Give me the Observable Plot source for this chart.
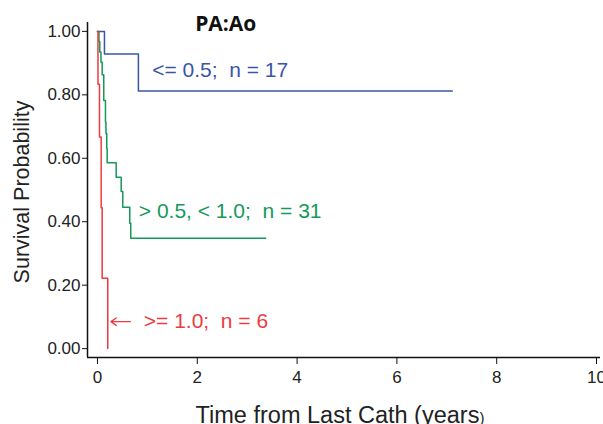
<!DOCTYPE html>
<html>
<head>
<meta charset="utf-8">
<script src="https://cdn.jsdelivr.net/npm/d3@7"></script>
<script src="https://cdn.jsdelivr.net/npm/@observablehq/plot@0.6"></script>
<style>
  html, body { margin: 0; padding: 0; background: #fff; }
  #chart { width: 603px; height: 424px; overflow: hidden; }
</style>
</head>
<body>
<div id="chart"></div>
<script>
// ---- data ----
const groups = ["<= 0.5", "> 0.5, < 1.0", ">= 1.0"];
const groupColors = ["#3a55a6", "#14995a", "#ec3b40"];

const blueTime = [0, 0.14, 0.82, 7.11];
const blueSurv = [1, 0.929, 0.812, 0.812];

const greenTime = [0, 0.03, 0.046, 0.07, 0.094, 0.126, 0.16, 0.17, 0.186, 0.194, 0.375, 0.475, 0.507, 0.647, 0.667, 3.37];
const greenSurv = [1, 0.968, 0.935, 0.903, 0.863, 0.782, 0.714, 0.678, 0.631, 0.586, 0.540, 0.495, 0.446, 0.395, 0.348, 0.348];

const redTime = [0, 0.01, 0.04, 0.074, 0.094, 0.206];
const redSurv = [1, 0.833, 0.667, 0.444, 0.222, 0];

const labelText = ["<= 0.5;\u00a0 n = 17", "> 0.5, < 1.0;\u00a0 n = 31", ">= 1.0;\u00a0 n = 6"];
const labelX = [1.096, 0.828, 0.928];
const labelY = [0.876, 0.433, 0.085];

// arrow pointing from the red label to the red curve
const arrowFromX = [0.66];
const arrowToX = [0.27];
const arrowY = [0.085];

const titleText = ["PA:Ao"];
const titleX = [2.57];
const titleY = [1.024];

const xTicks = [0, 2, 4, 6, 8, 10];
const yTicks = [0, 0.2, 0.4, 0.6, 0.8, 1.0];
const xDomain = [-0.2, 10.08];
const yDomain = [-0.028, 1.028];

const xTitleMain = "Time from Last Cath (years";
const xTitleEnd = ")";
const yTitle = "Survival Probability";

// ---- build rows ----
const series = [
  {g: groups[0], t: blueTime, s: blueSurv},
  {g: groups[1], t: greenTime, s: greenSurv},
  {g: groups[2], t: redTime, s: redSurv}
];
const rows = series.flatMap(d => d.t.map((t, i) => ({group: d.g, t, s: d.s[i]})));
const labels = labelText.map((text, i) => ({text, x: labelX[i], y: labelY[i], group: groups[i]}));
const arrows = arrowFromX.map((x1, i) => ({x1, x2: arrowToX[i], y: arrowY[i]}));

const font = "'Liberation Sans', Arial, sans-serif";

const chart = Plot.plot({
  width: 603,
  height: 424,
  marginLeft: 87,
  marginRight: 3,
  marginTop: 22,
  marginBottom: 67,
  style: {fontFamily: font, color: "#222", background: "white", overflow: "visible"},
  x: {domain: xDomain},
  y: {domain: yDomain},
  color: {domain: groups, range: groupColors},
  marks: [
    Plot.ruleX([xDomain[0]], {stroke: "#111", strokeWidth: 1.5}),
    Plot.ruleY([yDomain[0]], {stroke: "#111", strokeWidth: 1.5}),
    Plot.axisY({ticks: yTicks, tickFormat: d3.format(".2f"), tickSize: 5, tickPadding: 2, fontSize: 17, label: null, stroke: "#111"}),
    Plot.axisX({ticks: xTicks, tickFormat: d3.format("d"), tickSize: 7, tickPadding: 6, fontSize: 17, label: null, stroke: "#111"}),
    Plot.line(rows, {x: "t", y: "s", z: "group", stroke: "group", curve: "step-after", strokeWidth: 1.5}),
    Plot.text(labels, {x: "x", y: "y", text: "text", fill: "group", textAnchor: "start", lineAnchor: "middle", fontSize: 21}),
    Plot.arrow(arrows, {x1: "x1", x2: "x2", y1: "y", y2: "y", stroke: groupColors[2], strokeWidth: 1.3, headLength: 8, headAngle: 70}),
    Plot.text(titleText, {x: titleX, y: titleY, text: d => d, fontFamily: "'Open Sans', sans-serif", fontWeight: 700, fontSize: 21, fill: "#111", lineAnchor: "middle"}),
    Plot.text([yTitle], {frameAnchor: "left", text: d => d, rotate: -90, textAnchor: "middle", dx: -65, dy: 2, fontSize: 21.5, fill: "#222"}),
    Plot.text([xTitleMain], {frameAnchor: "bottom", text: d => d, dy: 58, dx: -4, fontSize: 23.5, fill: "#222", lineAnchor: "middle", textAnchor: "middle"})
  ]
});
document.getElementById("chart").appendChild(chart);

// make the closing parenthesis of the x title smaller, as in the reference
d3.select(chart).selectAll("text")
  .filter(function() { return this.textContent === xTitleMain; })
  .append("tspan").attr("font-size", "15").text(xTitleEnd);
</script>
</body>
</html>
